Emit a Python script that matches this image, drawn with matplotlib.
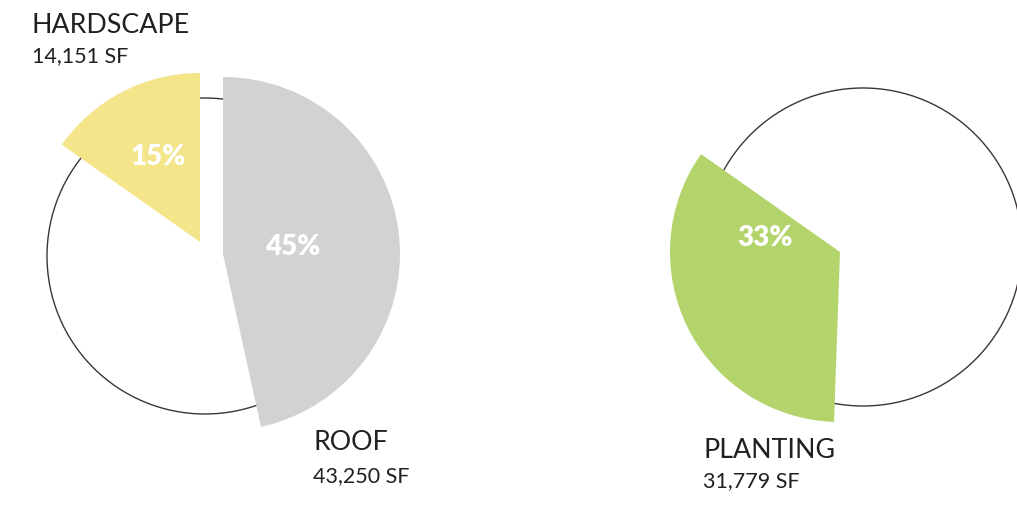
import matplotlib.pyplot as plt
from matplotlib.patches import Wedge, Circle

# site areas (square feet) and the printed share labels
categories = ['HARDSCAPE', 'ROOF', 'PLANTING']
area_sf = [14151, 43250, 31779]
area_text = ['14,151 SF', '43,250 SF', '31,779 SF']
pct_text = ['15%', '45%', '33%']
total_sf = 92900  # whole site, the rest is unlabelled

colors = ['#f4e48a', '#d1d2d4', '#b2d46a']
text_color = '#231f20'
H = 525

if __name__ == "__main__":
    plt.rcParams['font.family'] = ['Lato', 'DejaVu Sans']
    fig = plt.figure(figsize=(10.17, 5.25), dpi=100)
    ax = fig.add_axes([0, 0, 1, 1])
    ax.set_xlim(0, 1017)
    ax.set_ylim(0, H)
    ax.set_aspect('equal')
    ax.axis('off')

    deg = [a / total_sf * 360 for a in area_sf]
    hard, roof, plant = deg

    # (theta1, theta2) counter-clockwise from 3 o'clock
    spans = [(90, 90 + hard), (90 - roof, 90), (90 + hard, 90 + hard + plant)]
    # wedge apex in pixels (image coords) and radius
    apex = [(200, 242), (223, 254), (840, 252)]
    radius = [169, 177, 170]
    pct_pos = [(158, 157), (293, 247), (765, 238)]
    name_pos = [(32, 33), (313, 450), (703, 458)]
    sub_pos = [(32, 62), (313, 482), (703, 487)]

    # outline circles for the two pies
    for cx, cy, r in [(205, 256, 158), (863, 247, 159)]:
        ax.add_patch(Circle((cx, H - cy), r, facecolor='white', edgecolor='#3d3535',
                            linewidth=1.0, zorder=1))

    for i in range(len(categories)):
        t1, t2 = spans[i]
        ax.add_patch(Wedge((apex[i][0], H - apex[i][1]), radius[i], t1, t2,
                           facecolor=colors[i], edgecolor='none', zorder=2))
        ax.text(pct_pos[i][0], H - pct_pos[i][1], pct_text[i], color='white',
                fontsize=20, fontweight='heavy', ha='center', va='center', zorder=3)
        ax.text(name_pos[i][0], H - name_pos[i][1], categories[i], color=text_color,
                fontsize=19.3, ha='left', va='baseline')
        ax.text(sub_pos[i][0], H - sub_pos[i][1], area_text[i], color=text_color,
                fontsize=15.5, ha='left', va='baseline')

    plt.savefig('out.png', dpi=100)
